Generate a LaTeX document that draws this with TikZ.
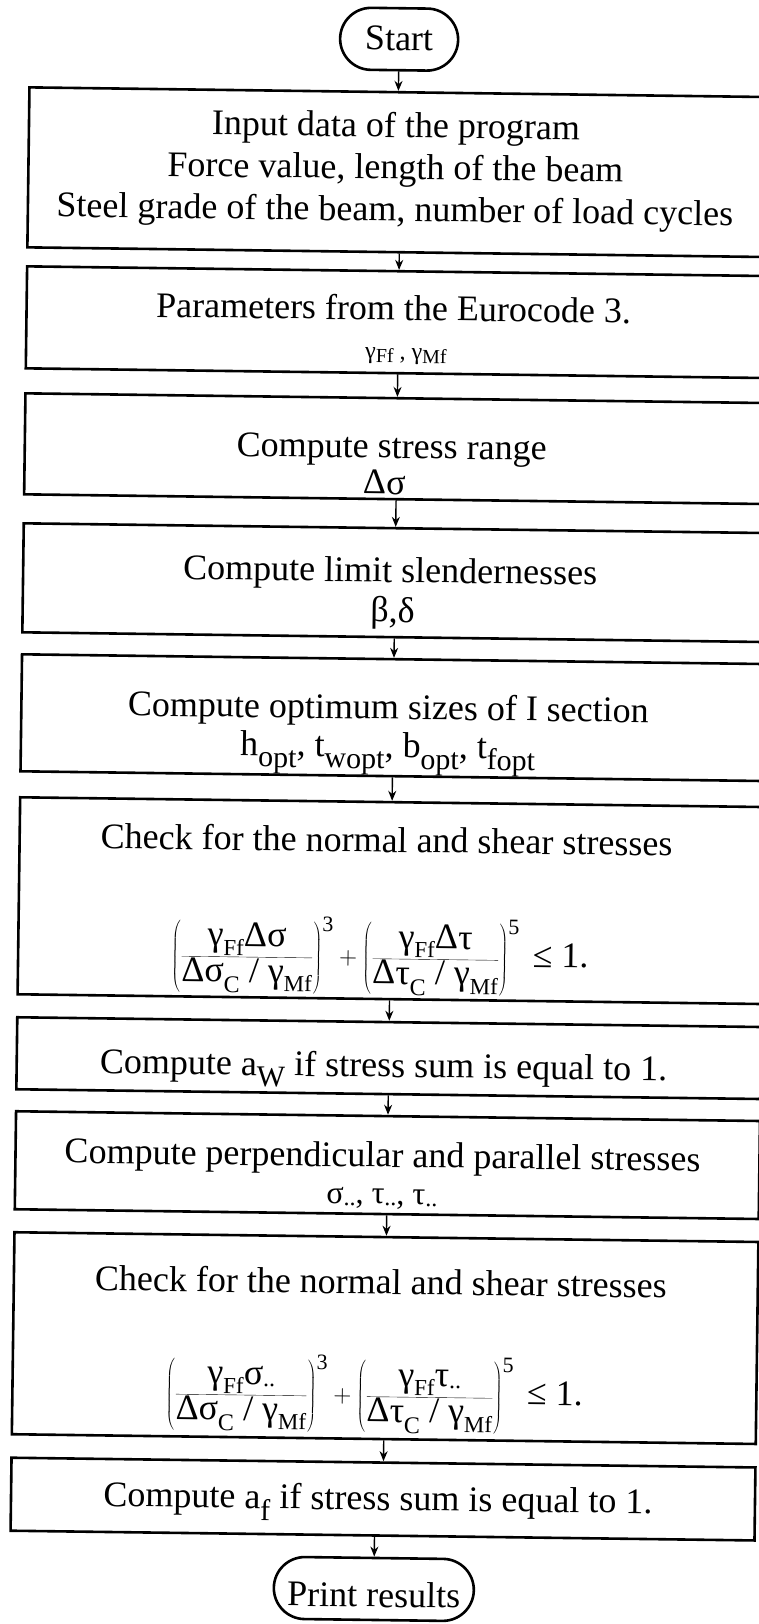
\documentclass[tikz,border=0pt]{standalone}
\usepackage{fontspec}
\setmainfont{Liberation Serif}
\usetikzlibrary{arrows.meta,shapes.misc}
\newcommand{\lsub}[1]{\raisebox{-0.32em}{\fontsize{30}{30}\selectfont #1}}
\newcommand{\gsub}[1]{\raisebox{-0.15em}{\fontsize{20}{20}\selectfont #1}}
\newcommand{\gamsub}[1]{γ\raisebox{-0.25em}{\fontsize{23}{23}\selectfont #1}}
\newcommand{\csub}[1]{\raisebox{-0.3em}{\fontsize{24}{24}\selectfont #1}}
\newcommand{\dsub}[1]{\raisebox{-0.05em}{\fontsize{24}{24}\selectfont #1}}
\newcommand{\pw}[1]{\mbox{\fontsize{22}{22}\selectfont #1}}
\tikzset{
  boxst/.style={draw, line width=2.6pt, inner sep=0pt, minimum width=744pt},
  ovalst/.style={draw, rounded rectangle, line width=2.6pt, inner sep=0pt},
  txt/.style={inner sep=0pt, anchor=base, font=\fontsize{36}{42}\selectfont},
  frm/.style={inner sep=0pt, anchor=base, font=\fontsize{36}{42}\selectfont},
  arr/.style={-{Stealth[length=10pt,width=8pt]}, line width=1.4pt}
}
\begin{document}
\begin{tikzpicture}[x=1pt,y=-1pt]
\useasboundingbox (0,0) rectangle (759,1624);
\fill[white] (0,0) rectangle (759,1624);
\clip (0,0) rectangle (759,1624);
\begin{scope}[rotate around={-0.75:(380,812)}, transform shape]
% ovals
\node[ovalst, minimum width=118pt, minimum height=62pt] (start) at (389,39) {};
\node[ovalst, minimum width=200pt, minimum height=62pt] (print) at (384,1589) {};
% boxes
\node[boxst, minimum height=160pt] (input) at (392,172) {};
\node[boxst, minimum height=102pt] (params) at (392,322) {};
\node[boxst, minimum height=101pt] (stress) at (392,448.5) {};
\node[boxst, minimum height=109pt] (slender) at (392,582.5) {};
\node[boxst, minimum height=117pt] (optimum) at (392,717.5) {};
\node[boxst, minimum height=197pt] (check1) at (392,900.5) {};
\node[boxst, minimum height=72pt] (aw) at (392,1058) {};
\node[boxst, minimum height=98pt] (perp) at (392,1165) {};
\node[boxst, minimum height=202pt] (check2) at (392,1338) {};
\node[boxst, minimum height=73pt] (af) at (392,1499) {};
% texts
\node[txt] (tstart) at (389,50) {Start};
\node[txt] (tin1) at (387,137) {Input data of the program};
\node[txt] (tin2) at (387,179) {Force value, length of the beam};
\node[txt] (tin3) at (387,221) {Steel grade of the beam, number of load cycles};
\node[txt] (tpar1) at (387,320) {Parameters from the Eurocode 3.};
\node[txt, font=\fontsize{24}{28}\selectfont] (tpar2) at (400,359) {γ\gsub{Ff} , γ\gsub{Mf}};
\node[txt] (tstr1) at (387,458) {Compute stress range};
\node[txt] (tstr2) at (380,494) {Δσ};
\node[txt] (tsl1) at (387,582) {Compute limit slendernesses};
\node[txt] (tsl2) at (390,622) {β,δ};
\node[txt] (topt1) at (387,719) {Compute optimum sizes of I section};
\node[txt] (topt2) at (387,757) {h\lsub{opt}, t\lsub{wopt}, b\lsub{opt}, t\lsub{fopt}};
\node[txt] (tc1) at (387,852) {Check for the normal and shear stresses};
\node[frm] (fc1) at (382,965) {$\displaystyle\left(\frac{\mbox{\gamsub{Ff}Δσ}}{\mbox{Δσ\csub{C} / \gamsub{Mf}}}\right)^{\pw{3}}
 + \left(\frac{\mbox{\gamsub{Ff}Δτ}}{\mbox{Δτ\csub{C} / \gamsub{Mf}}}\right)^{\pw{5}}\mbox{ ≤ 1.}$};
\node[txt] (taw) at (387,1077) {Compute a\lsub{W} if stress sum is equal to 1.};
\node[txt] (tpe1) at (387,1167) {Compute perpendicular and parallel stresses};
\node[txt, font=\fontsize{32}{38}\selectfont] (tpe2) at (387,1204) {σ\dsub{..}, τ\dsub{..}, τ\dsub{..}};
\node[txt] (tc2) at (387,1294) {Check for the normal and shear stresses};
\node[frm] (fc2) at (382,1403) {$\displaystyle\left(\frac{\mbox{\gamsub{Ff}σ\dsub{..}}}{\mbox{Δσ\csub{C} / \gamsub{Mf}}}\right)^{\pw{3}}
 + \left(\frac{\mbox{\gamsub{Ff}τ\dsub{..}}}{\mbox{Δτ\csub{C} / \gamsub{Mf}}}\right)^{\pw{5}}\mbox{ ≤ 1.}$};
\node[txt] (taf) at (387,1510) {Compute a\lsub{f} if stress sum is equal to 1.};
\node[txt] (tprint) at (384,1607) {Print results};
% connectors
\draw[arr] (start.south) -- (start.south |- input.north);
\draw[arr] (input.south) -- (params.north);
\draw[arr] (params.south) -- (stress.north);
\draw[arr] (stress.south) -- (slender.north);
\draw[arr] (slender.south) -- (optimum.north);
\draw[arr] (optimum.south) -- (check1.north);
\draw[arr] (check1.south) -- (aw.north);
\draw[arr] (aw.south) -- (perp.north);
\draw[arr] (perp.south) -- (check2.north);
\draw[arr] (check2.south) -- (af.north);
\draw[arr] (af.south -| print.north) -- (print.north);
\end{scope}
\end{tikzpicture}
\end{document}
